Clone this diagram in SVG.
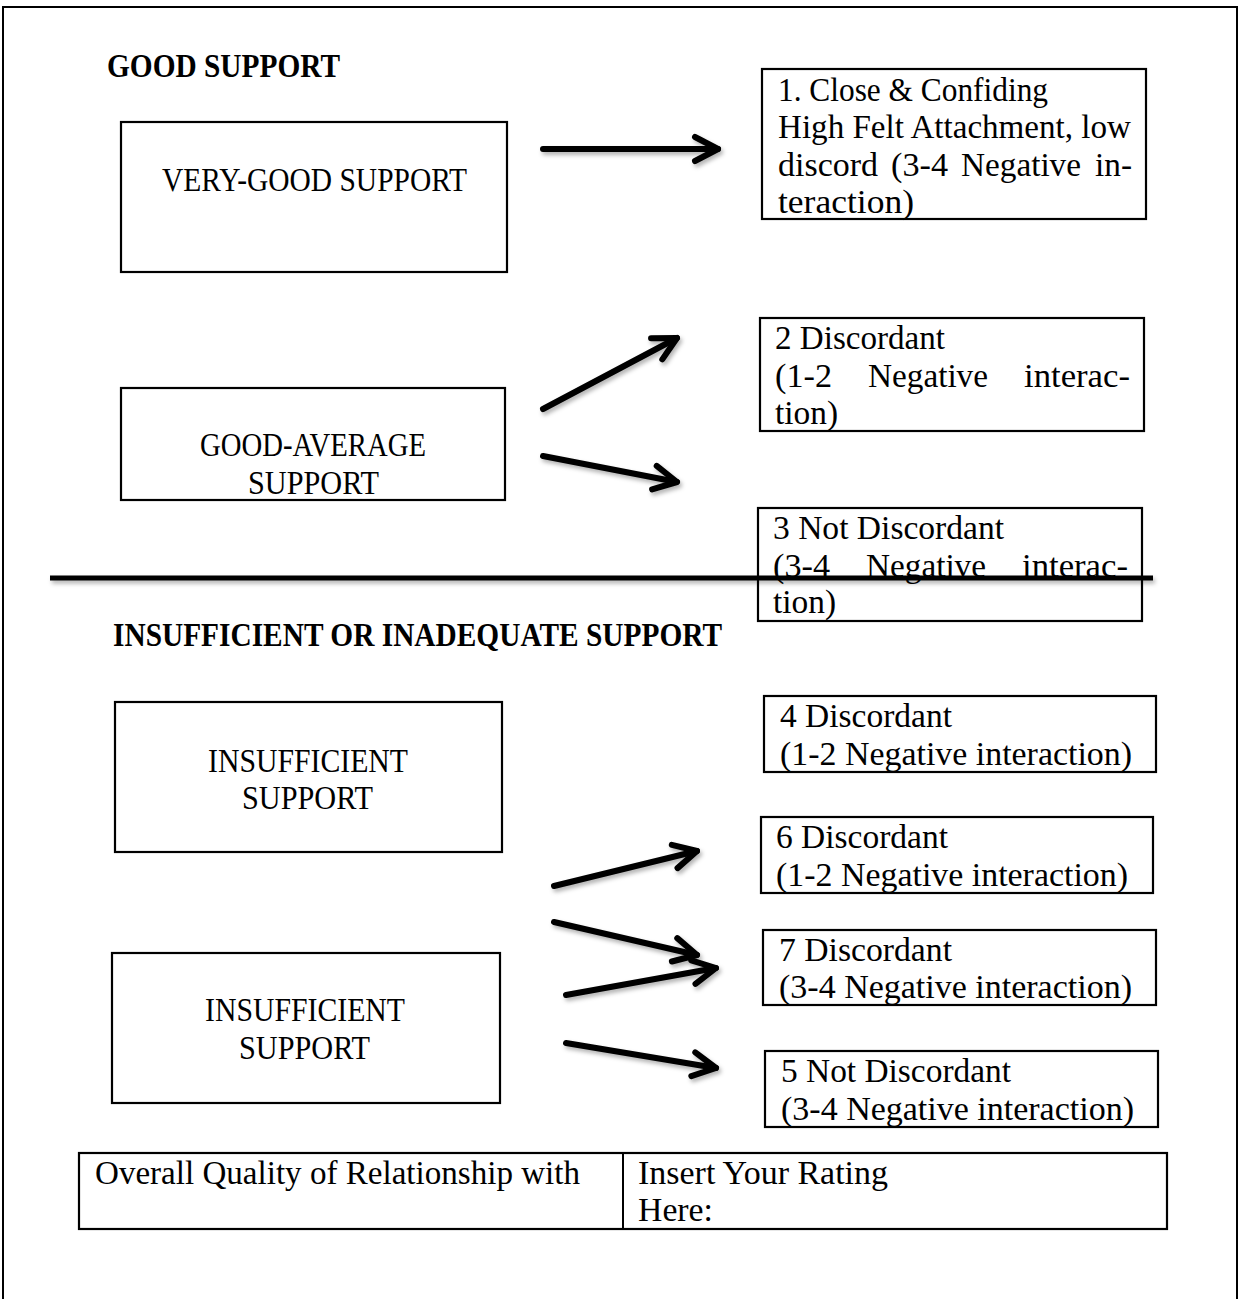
<svg xmlns="http://www.w3.org/2000/svg" width="1239" height="1299" viewBox="0 0 1239 1299">
<style>
  .t { font-family: "Liberation Serif", "Times New Roman", serif; font-size: 33px; fill: #000; }
  .h { font-family: "Liberation Serif", "Times New Roman", serif; font-size: 33px; font-weight: bold; fill: #000; }
  .box { fill: #fff; stroke: #000; stroke-width: 2.2; }
  .arr { fill: none; stroke: #000; stroke-width: 6; stroke-linecap: round; marker-end: url(#head); filter: url(#sh); }
  .frame { fill: none; stroke: #000; stroke-width: 2; }
</style>
<defs>
  <filter id="sh" filterUnits="userSpaceOnUse" x="0" y="0" width="1239" height="1299">
    <feDropShadow dx="2" dy="3" stdDeviation="2" flood-color="#000" flood-opacity="0.3"/>
  </filter>
  <marker id="head" markerUnits="userSpaceOnUse" markerWidth="32" markerHeight="32" refX="26" refY="15" orient="auto" overflow="visible">
    <path d="M3,3 L26,15 L3,27" fill="none" stroke="#000" stroke-width="6" stroke-linecap="round" stroke-linejoin="round"/>
  </marker>
</defs>
<rect width="1239" height="1299" fill="#fff"/>
<path class="frame" d="M3,1299 V7 H1237 V1299"/>

<g id="heading-good">
  <text class="h" x="107" y="77" textLength="233" lengthAdjust="spacingAndGlyphs">GOOD SUPPORT</text>
</g>

<g id="very-good-support">
  <rect class="box" x="121" y="122" width="386" height="150"/>
  <text class="t" x="162" y="191" textLength="305" lengthAdjust="spacingAndGlyphs">VERY-GOOD SUPPORT</text>
</g>

<g id="good-average-support">
  <rect class="box" x="121" y="388" width="384" height="112"/>
  <text class="t" x="200" y="456" textLength="226" lengthAdjust="spacingAndGlyphs">GOOD-AVERAGE</text>
  <text class="t" x="248" y="494" textLength="131" lengthAdjust="spacingAndGlyphs">SUPPORT</text>
</g>

<g id="insufficient-support-1">
  <rect class="box" x="115" y="702" width="387" height="150"/>
  <text class="t" x="208" y="772" textLength="200" lengthAdjust="spacingAndGlyphs">INSUFFICIENT</text>
  <text class="t" x="242" y="809" textLength="131" lengthAdjust="spacingAndGlyphs">SUPPORT</text>
</g>

<g id="insufficient-support-2">
  <rect class="box" x="112" y="953" width="388" height="150"/>
  <text class="t" x="205" y="1021" textLength="200" lengthAdjust="spacingAndGlyphs">INSUFFICIENT</text>
  <text class="t" x="239" y="1059" textLength="131" lengthAdjust="spacingAndGlyphs">SUPPORT</text>
</g>

<g id="box-1-close-confiding">
  <rect class="box" x="762" y="69" width="384" height="150"/>
  <text class="t" x="778" y="101" textLength="270" lengthAdjust="spacingAndGlyphs">1. Close &amp; Confiding</text>
  <text class="t" x="778" y="138" textLength="353" lengthAdjust="spacingAndGlyphs">High Felt Attachment, low</text>
  <text class="t" x="778" y="176" textLength="100" lengthAdjust="spacingAndGlyphs">discord</text>
  <text class="t" x="891" y="176" textLength="57" lengthAdjust="spacingAndGlyphs">(3-4</text>
  <text class="t" x="961" y="176" textLength="120" lengthAdjust="spacingAndGlyphs">Negative</text>
  <text class="t" x="1095" y="176" textLength="37" lengthAdjust="spacingAndGlyphs">in-</text>
  <text class="t" x="778" y="213" textLength="136" lengthAdjust="spacingAndGlyphs">teraction)</text>
</g>

<g id="box-2-discordant">
  <rect class="box" x="760" y="318" width="384" height="113"/>
  <text class="t" x="775" y="349" textLength="170" lengthAdjust="spacingAndGlyphs">2 Discordant</text>
  <text class="t" x="775" y="387" textLength="57" lengthAdjust="spacingAndGlyphs">(1-2</text>
  <text class="t" x="868" y="387" textLength="120" lengthAdjust="spacingAndGlyphs">Negative</text>
  <text class="t" x="1024" y="387" textLength="106" lengthAdjust="spacingAndGlyphs">interac-</text>
  <text class="t" x="775" y="424" textLength="63" lengthAdjust="spacingAndGlyphs">tion)</text>
</g>

<g id="box-3-not-discordant">
  <rect class="box" x="758" y="508" width="384" height="113"/>
  <text class="t" x="773" y="539" textLength="231" lengthAdjust="spacingAndGlyphs">3 Not Discordant</text>
  <text class="t" x="773" y="577" textLength="57" lengthAdjust="spacingAndGlyphs">(3-4</text>
  <text class="t" x="866" y="577" textLength="120" lengthAdjust="spacingAndGlyphs">Negative</text>
  <text class="t" x="1022" y="577" textLength="106" lengthAdjust="spacingAndGlyphs">interac-</text>
  <text class="t" x="773" y="613" textLength="63" lengthAdjust="spacingAndGlyphs">tion)</text>
</g>

<g id="divider">
  <line x1="50" y1="578" x2="1153" y2="578" stroke="#000" stroke-width="5" filter="url(#sh)"/>
</g>

<g id="heading-insufficient">
  <text class="h" x="113" y="646" textLength="609" lengthAdjust="spacingAndGlyphs">INSUFFICIENT OR INADEQUATE SUPPORT</text>
</g>

<g id="box-4-discordant">
  <rect class="box" x="764" y="696" width="392" height="76"/>
  <text class="t" x="780" y="727" textLength="172" lengthAdjust="spacingAndGlyphs">4 Discordant</text>
  <text class="t" x="780" y="765" textLength="352" lengthAdjust="spacingAndGlyphs">(1-2 Negative interaction)</text>
</g>

<g id="box-6-discordant">
  <rect class="box" x="761" y="817" width="392" height="76"/>
  <text class="t" x="776" y="848" textLength="172" lengthAdjust="spacingAndGlyphs">6 Discordant</text>
  <text class="t" x="776" y="886" textLength="352" lengthAdjust="spacingAndGlyphs">(1-2 Negative interaction)</text>
</g>

<g id="box-7-discordant">
  <rect class="box" x="763" y="930" width="393" height="75"/>
  <text class="t" x="779" y="961" textLength="173" lengthAdjust="spacingAndGlyphs">7 Discordant</text>
  <text class="t" x="779" y="998" textLength="353" lengthAdjust="spacingAndGlyphs">(3-4 Negative interaction)</text>
</g>

<g id="box-5-not-discordant">
  <rect class="box" x="765" y="1051" width="393" height="76"/>
  <text class="t" x="781" y="1082" textLength="230" lengthAdjust="spacingAndGlyphs">5 Not Discordant</text>
  <text class="t" x="781" y="1120" textLength="353" lengthAdjust="spacingAndGlyphs">(3-4 Negative interaction)</text>
</g>

<g id="rating-table">
  <rect class="box" x="79" y="1153" width="1088" height="76"/>
  <line x1="623" y1="1153" x2="623" y2="1229" stroke="#000" stroke-width="2"/>
  <text class="t" x="95" y="1184" textLength="485" lengthAdjust="spacingAndGlyphs">Overall Quality of Relationship with</text>
  <text class="t" x="638" y="1184" textLength="250" lengthAdjust="spacingAndGlyphs">Insert Your Rating</text>
  <text class="t" x="638" y="1221" textLength="75" lengthAdjust="spacingAndGlyphs">Here:</text>
</g>

<g id="connectors">
  <path class="arr" d="M543,149 L718,149"/>
  <path class="arr" d="M543,409 L677,338"/>
  <path class="arr" d="M543,456 L677,482"/>
  <path class="arr" d="M554,886 L697,851"/>
  <path class="arr" d="M554,922 L697,955"/>
  <path class="arr" d="M566,995 L716,968"/>
  <path class="arr" d="M566,1043 L716,1068"/>
</g>
</svg>
